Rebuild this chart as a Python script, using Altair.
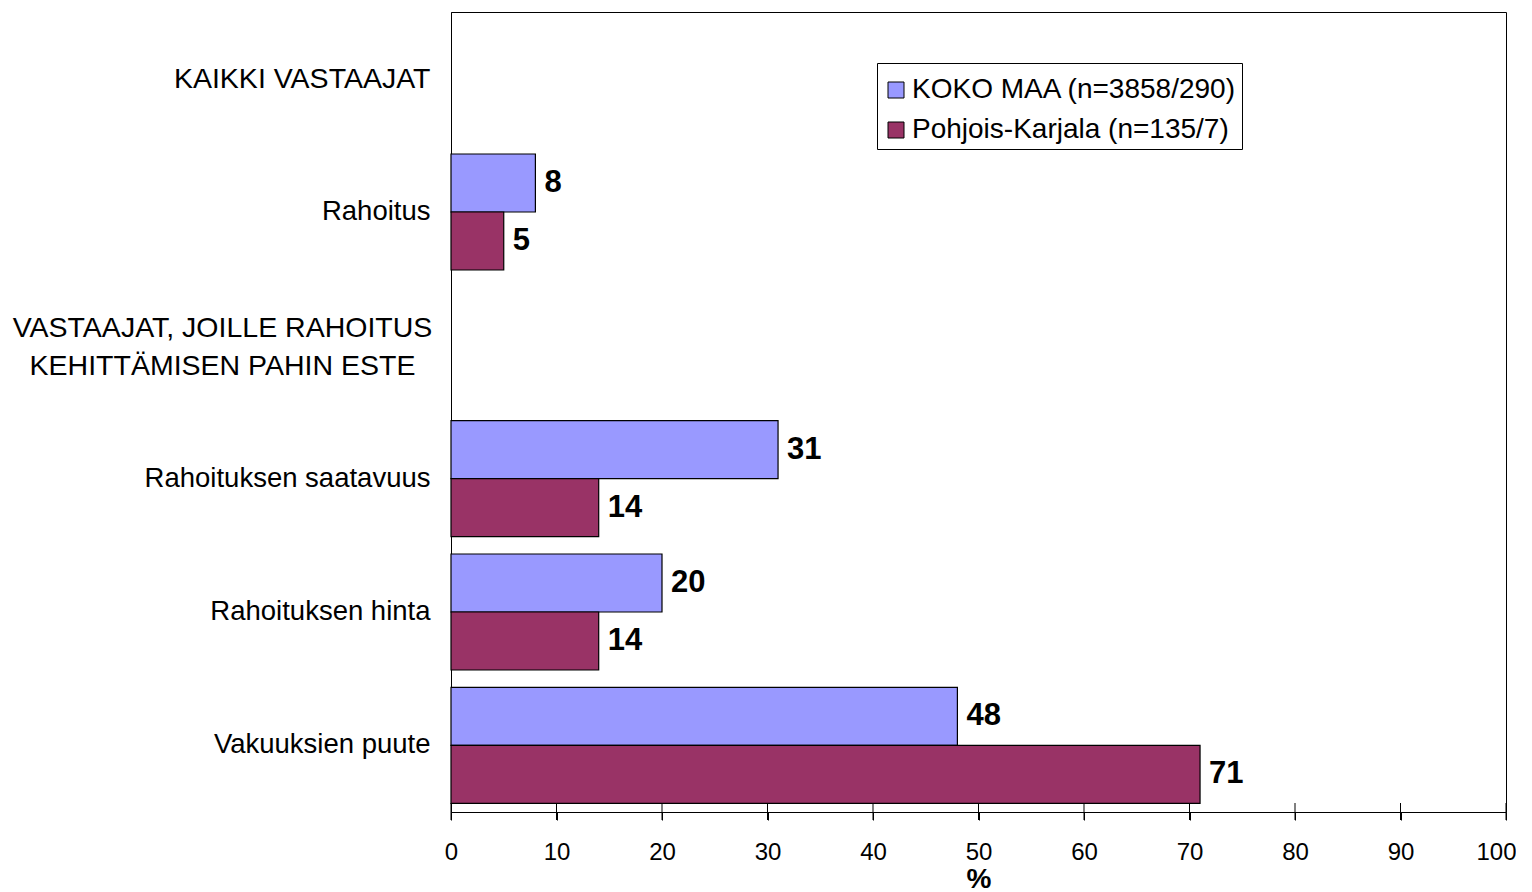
import altair as alt
import pandas as pd

# ---- data ----
categories = [
    "KAIKKI VASTAAJAT",
    "Rahoitus",
    "VASTAAJAT, JOILLE RAHOITUS|KEHITTÄMISEN PAHIN ESTE",
    "Rahoituksen saatavuus",
    "Rahoituksen hinta",
    "Vakuuksien puute",
]
series_names = ["KOKO MAA (n=3858/290)", "Pohjois-Karjala (n=135/7)"]
bar_categories = ["Rahoitus", "Rahoituksen saatavuus", "Rahoituksen hinta", "Vakuuksien puute"]
koko_maa = [8, 31, 20, 48]
pohjois_karjala = [5, 14, 14, 71]
x_ticks = [0, 10, 20, 30, 40, 50, 60, 70, 80, 90, 100]
colors = ["#9999FF", "#993366"]

rows = []
for c, a, b in zip(bar_categories, koko_maa, pohjois_karjala):
    rows.append({"cat": c, "series": series_names[0], "value": a})
    rows.append({"cat": c, "series": series_names[1], "value": b})
df = pd.DataFrame(rows)
ticks_df = pd.DataFrame({"t": x_ticks})

FONT = "Liberation Sans"
multi = categories[2]
is_multi = f"datum.value === '{multi}'"
is_caps = f"datum.value === '{categories[0]}' || datum.value === '{multi}'"

x_scale = alt.Scale(domain=[0, 100], nice=False)

y_enc = alt.Y(
    "cat:N",
    sort=categories,
    scale=alt.Scale(domain=categories, paddingInner=0.13, paddingOuter=0.065),
    axis=alt.Axis(
        title=None,
        domain=True,
        domainColor="black",
        domainWidth=1,
        ticks=False,
        grid=False,
        labelFont=FONT,
        labelFontSize={"condition": {"test": is_caps, "value": 28.5}, "value": 27.5},
        labelColor="black",
        labelLimit=1000,
        labelExpr="split(datum.label, '|')",
        labelLineHeight=38,
        labelAlign={"condition": {"test": is_multi, "value": "center"}, "value": "right"},
        labelPadding={"condition": {"test": is_multi, "value": 229}, "value": 21},
        labelOffset={"condition": {"test": is_multi, "value": -17}, "value": 0},
    ),
)
yoff_enc = alt.YOffset("series:N", sort=series_names, scale=alt.Scale(domain=series_names))

x_enc = alt.X(
    "value:Q",
    scale=x_scale,
    axis=alt.Axis(
        values=x_ticks,
        title="%",
        titleFont=FONT,
        titleFontSize=28,
        titleFontWeight="bold",
        titleColor="black",
        titlePadding=1,
        labelFont=FONT,
        labelFontSize=24,
        labelColor="black",
        labelPadding=20,
        labelFlush=False,
        labelOverlap=False,
        labelOffset={"condition": {"test": "datum.value === 100", "value": -10}, "value": 0},
        tickSize=8,
        tickColor="black",
        domainColor="black",
        grid=False,
    ),
)

bars = alt.Chart(df).mark_bar(stroke="black", strokeWidth=1.2).encode(
    x=x_enc,
    y=y_enc,
    yOffset=yoff_enc,
    color=alt.Color(
        "series:N",
        scale=alt.Scale(domain=series_names, range=colors),
        legend=alt.Legend(
            title=" ",
            titleFontSize=1,
            titlePadding=9,
            orient="none",
            legendX=426,
            legendY=51,
            direction="vertical",
            strokeColor="black",
            fillColor="white",
            padding=5,
            symbolType="square",
            symbolSize=256,
            symbolStrokeColor="black",
            symbolStrokeWidth=1,
            labelFont=FONT,
            labelFontSize=28,
            labelColor="black",
            labelOffset=2,
            labelLimit=1000,
            clipHeight=24,
            rowPadding=12,
        ),
    ),
)

labels = alt.Chart(df).mark_text(
    align="left", baseline="middle", dx=9, font=FONT, fontSize=31, fontWeight="bold", color="black"
).encode(
    x=alt.X("value:Q", scale=x_scale),
    y=alt.Y("cat:N", sort=categories),
    yOffset=yoff_enc,
    text="value:Q",
)

tick_rules = alt.Chart(ticks_df).mark_rule(color="black", strokeWidth=1).encode(
    x=alt.X("t:Q", scale=x_scale),
    y=alt.value(791),
    y2=alt.value(808),
)

chart = (
    alt.layer(bars, labels, tick_rules)
    .properties(
        width=1055,
        height=800,
        autosize=alt.AutoSizeParams(type="none"),
        padding={"left": 443, "top": 4, "right": 10, "bottom": 80},
        background="white",
    )
    .configure_view(stroke="black", strokeWidth=1)
)

chart.save("out.html", embed_options={"renderer": "svg", "actions": False})
